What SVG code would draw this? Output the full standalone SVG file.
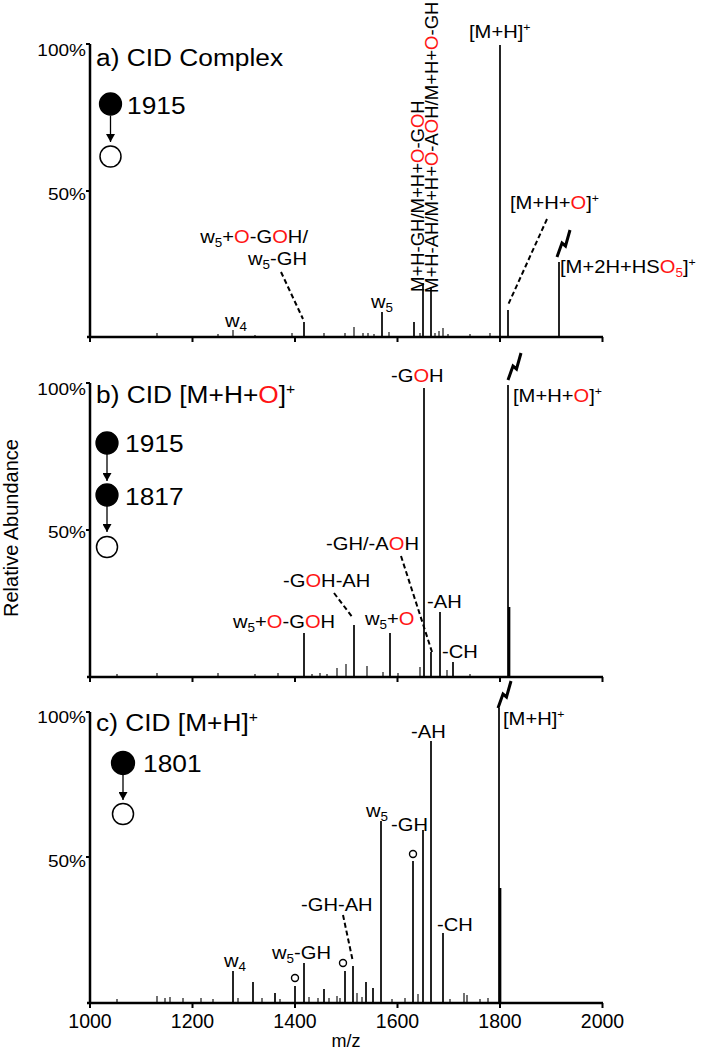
<svg xmlns="http://www.w3.org/2000/svg" width="704" height="1050" viewBox="0 0 704 1050">
<style>
text{font-family:"Liberation Sans",Arial,Helvetica,sans-serif;fill:#000}
.r{fill:#ff1414}
.t{font-size:23.5px}
.p{font-size:17px}
.l{font-size:18px}
.ax{stroke:#000;stroke-width:2.5;fill:none}
.tk{stroke:#000;stroke-width:2;fill:none}
.pk{stroke:#000;stroke-width:1.7;fill:none}
.nz{stroke:#000;stroke-width:1.1;fill:none}
.ds{stroke:#000;stroke-width:2;stroke-dasharray:5 3;fill:none}
.bolt{stroke:#000;stroke-width:3;fill:none;stroke-linejoin:miter}
.ar{stroke:#000;stroke-width:1.3;fill:none}
.fc{fill:#000;stroke:#000;stroke-width:1.3}
.oc{fill:#fff;stroke:#000;stroke-width:1.5}
</style>
<defs>
<marker id="ah" viewBox="0 0 8 9" refX="8" refY="4.5" markerWidth="8" markerHeight="9" markerUnits="userSpaceOnUse" orient="auto"><path d="M0,0 L8,4.5 L0,9 z" fill="#000"/></marker>
<path id="bolt" d="M0,0 L5,-14 L8.5,-11 L13,-27"/>
</defs>

<text transform="translate(18,528) rotate(-90)" font-size="20" text-anchor="middle">Relative Abundance</text>

<!-- Panel a -->
<g id="panel-a">
<path class="ax" d="M90,44 V337 M87,337 H603"/>
<path class="tk" d="M86,44 H90 M86,191 H90 M90,337 v5 M192.5,337 v5 M295,337 v5 M397.5,337 v5 M500,337 v5 M602.5,337 v5"/>
<text class="p" text-anchor="end" transform="translate(86,56) scale(1.12,1)">100%</text>
<text class="p" text-anchor="end" transform="translate(86,200) scale(1.12,1)">50%</text>
<text class="t" transform="translate(96,66) scale(1.12,1)">a) CID Complex</text>
<path class="pk" d="M500,337V45 M508,337V310 M559,337V262 M423,337V283 M431,337V287 M382,337V312 M414,337V322 M304,337V322"/>
<path class="nz" d="M439,337V331 M443,337V328 M389,337V332 M354,337V327 M233,337V330 M324,337V333 M345,337V333 M363,337V333 M368,337V333 M374,337V334 M420,337V333 M157,337V333 M218,337V334 M255,337V335 M292,337V333 M470,337V334 M490,337V333 M435,337V333 M448,337V334"/>
<text class="l" transform="translate(469,38) scale(1.12,1)">[M+H]<tspan font-size="11" dy="-7">+</tspan></text>
<text font-size="18.5" transform="translate(424,292) rotate(-90)">M+H-GH/M+H+<tspan class="r">O</tspan>-G<tspan class="r">O</tspan>H</text>
<text font-size="18.5" transform="translate(438,293) rotate(-90)">M+H-AH/M+H+<tspan class="r">O</tspan>-A<tspan class="r">O</tspan>H/M+H+<tspan class="r">O</tspan>-GH</text>
<text class="l" transform="translate(510,209) scale(1.12,1)">[M+H+<tspan class="r">O</tspan>]<tspan font-size="11" dy="-7">+</tspan></text>
<text class="l" transform="translate(560,273) scale(1.12,1)">[M+2H+HS<tspan class="r">O</tspan><tspan class="r" font-size="12" dy="4">5</tspan><tspan dy="-4">]</tspan><tspan font-size="11" dy="-7">+</tspan></text>
<text class="l" text-anchor="end" transform="translate(308,243) scale(1.12,1)">w<tspan font-size="12" dy="4">5</tspan><tspan dy="-4">+</tspan><tspan class="r">O</tspan>-G<tspan class="r">O</tspan>H/</text>
<text class="l" text-anchor="end" transform="translate(307,265) scale(1.12,1)">w<tspan font-size="12" dy="4">5</tspan><tspan dy="-4">-GH</tspan></text>
<text class="l" transform="translate(225,327) scale(1.12,1)">w<tspan font-size="12" dy="4">4</tspan></text>
<text class="l" transform="translate(371,308) scale(1.12,1)">w<tspan font-size="12" dy="4">5</tspan></text>
<use href="#bolt" class="bolt" transform="translate(557,257)"/>
</g>
<g id="node-a1"><circle class="fc" cx="110.5" cy="104" r="11"/><text class="t" transform="translate(127,114) scale(1.12,1)">1915</text></g>
<g id="node-a2"><circle class="oc" cx="110.5" cy="156.5" r="10.5"/></g>

<!-- Panel b -->
<g id="panel-b">
<path class="ax" d="M90,383 V677 M87,677 H603"/>
<path class="tk" d="M86,383 H90 M86,530 H90 M90,677 v5 M192.5,677 v5 M295,677 v5 M397.5,677 v5 M500,677 v5 M602.5,677 v5"/>
<text class="p" text-anchor="end" transform="translate(86,395) scale(1.12,1)">100%</text>
<text class="p" text-anchor="end" transform="translate(86,538) scale(1.12,1)">50%</text>
<text class="t" transform="translate(96,403) scale(1.12,1)">b) CID [M+H+<tspan class="r">O</tspan>]<tspan font-size="14" dy="-9">+</tspan></text>
<path class="pk" d="M424,677V388 M508,677V385 M509.5,677V607 M440,677V612 M453,677V662 M390,677V633 M354,677V625 M304,677V633 M431,677V652"/>
<path class="nz" d="M337,677V668 M346,677V664 M367,677V666 M383,677V672 M420,677V667 M447,677V670 M117,677V674 M157,677V673 M218,677V673 M255,677V674 M278,677V673 M320,677V673 M327,677V674 M312,677V674 M470,677V674 M398,677V673"/>
<text class="l" transform="translate(391,382) scale(1.12,1)">-G<tspan class="r">O</tspan>H</text>
<text class="l" transform="translate(513,402) scale(1.12,1)">[M+H+<tspan class="r">O</tspan>]<tspan font-size="11" dy="-7">+</tspan></text>
<text class="l" text-anchor="end" transform="translate(419,550) scale(1.12,1)">-GH/-A<tspan class="r">O</tspan>H</text>
<text class="l" transform="translate(283,587) scale(1.12,1)">-G<tspan class="r">O</tspan>H-AH</text>
<text class="l" transform="translate(233,628) scale(1.12,1)">w<tspan font-size="12" dy="4">5</tspan><tspan dy="-4">+</tspan><tspan class="r">O</tspan>-G<tspan class="r">O</tspan>H</text>
<text class="l" transform="translate(365,625) scale(1.12,1)">w<tspan font-size="12" dy="4">5</tspan><tspan dy="-4">+</tspan><tspan class="r">O</tspan></text>
<text class="l" transform="translate(427,608) scale(1.12,1)">-AH</text>
<text class="l" transform="translate(442,658) scale(1.12,1)">-CH</text>
<use href="#bolt" class="bolt" transform="translate(508,380)"/>
</g>
<g id="node-b1"><circle class="fc" cx="107" cy="443" r="11"/><text class="t" transform="translate(125,452) scale(1.12,1)">1915</text></g>
<g id="node-b2"><circle class="fc" cx="107" cy="495" r="11"/><text class="t" transform="translate(125,505) scale(1.12,1)">1817</text></g>
<g id="node-b3"><circle class="oc" cx="107" cy="547" r="10.5"/></g>

<!-- Panel c -->
<g id="panel-c">
<path class="ax" d="M90,712 V1003 M87,1003 H603"/>
<path class="tk" d="M86,712 H90 M86,857 H90 M90,1003 v5 M192.5,1003 v5 M295,1003 v5 M397.5,1003 v5 M500,1003 v5 M602.5,1003 v5"/>
<text class="p" text-anchor="end" transform="translate(86,723) scale(1.12,1)">100%</text>
<text class="p" text-anchor="end" transform="translate(86,867) scale(1.12,1)">50%</text>
<text class="t" transform="translate(96,731) scale(1.12,1)">c) CID [M+H]<tspan font-size="14" dy="-9">+</tspan></text>
<path class="pk" d="M499,1003V708 M500.5,1003V888 M431,1003V741 M381,1003V821 M423,1003V830 M413,1003V861 M443,1003V933 M353,1003V966 M345,1003V971 M304,1003V963 M295,1003V986 M233,1003V971 M253,1003V982 M275,1003V993 M324,1003V989 M366,1003V982 M373,1003V988"/>
<path class="nz" d="M337,1003V996 M357,1003V993 M362,1003V997 M464,1003V993 M467,1003V995 M157,1003V996 M165,1003V998 M170,1003V997 M183,1003V998 M201,1003V998 M213,1003V999 M238,1003V998 M262,1003V998 M280,1003V999 M309,1003V997 M318,1003V998 M329,1003V998 M340,1003V998 M392,1003V999 M405,1003V998 M418,1003V994 M450,1003V999 M480,1003V999 M488,1003V998 M117,1003V999"/>
<circle cx="413" cy="854" r="3.5" fill="none" stroke="#000" stroke-width="1.4"/>
<circle cx="343" cy="963" r="3.5" fill="none" stroke="#000" stroke-width="1.4"/>
<circle cx="295" cy="978" r="3.5" fill="none" stroke="#000" stroke-width="1.4"/>
<text class="l" transform="translate(503,725) scale(1.12,1)">[M+H]<tspan font-size="11" dy="-7">+</tspan></text>
<text class="l" transform="translate(411,738) scale(1.12,1)">-AH</text>
<text class="l" transform="translate(366,817) scale(1.12,1)">w<tspan font-size="12" dy="4">5</tspan></text>
<text class="l" transform="translate(391,831) scale(1.12,1)">-GH</text>
<text class="l" transform="translate(437,931) scale(1.12,1)">-CH</text>
<text class="l" transform="translate(301,911) scale(1.12,1)">-GH-AH</text>
<text class="l" transform="translate(272,959) scale(1.12,1)">w<tspan font-size="12" dy="4">5</tspan><tspan dy="-4">-GH</tspan></text>
<text class="l" transform="translate(224,967) scale(1.12,1)">w<tspan font-size="12" dy="4">4</tspan></text>
<use href="#bolt" class="bolt" transform="translate(498,708)"/>
<g font-size="19.5" text-anchor="middle">
<text x="90" y="1028">1000</text>
<text x="192.5" y="1028">1200</text>
<text x="295" y="1028">1400</text>
<text x="397.5" y="1028">1600</text>
<text x="500" y="1028">1800</text>
<text x="602.5" y="1028">2000</text>
</g>
<text x="346" y="1047" font-size="18" text-anchor="middle">m/z</text>
</g>
<g id="node-c1"><circle class="fc" cx="123" cy="763" r="11.5"/><text class="t" transform="translate(143,772) scale(1.12,1)">1801</text></g>
<g id="node-c2"><circle class="oc" cx="123" cy="814" r="10.5"/></g>

<g id="connectors">
<path class="ar" d="M110.5,115.5 V142" marker-end="url(#ah)"/>
<path class="ar" d="M107,454 V481" marker-end="url(#ah)"/>
<path class="ar" d="M107,506 V532" marker-end="url(#ah)"/>
<path class="ar" d="M123,775 V800" marker-end="url(#ah)"/>
<path class="ds" d="M547,219 L508,305"/>
<path class="ds" d="M281,272 L303,319"/>
<path class="ds" d="M401,556 L432,652"/>
<path class="ds" d="M334,593 L353,618"/>
<path class="ds" d="M343,915 L353,962"/>
</g>
</svg>
